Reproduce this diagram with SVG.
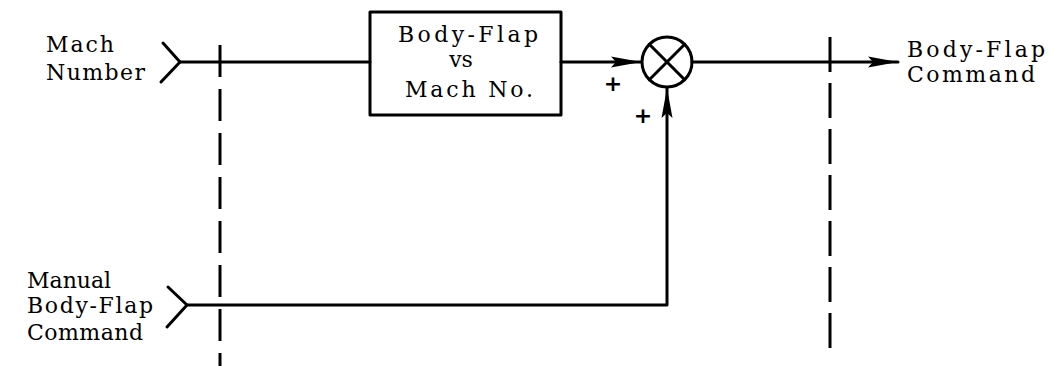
<svg xmlns="http://www.w3.org/2000/svg" width="1054" height="366" viewBox="0 0 1054 366">
<style>
.ln{stroke:#000;stroke-width:3;fill:none;stroke-linecap:round;stroke-linejoin:round}
.dash{stroke:#000;stroke-width:3;fill:none}
.t{font-family:"DejaVu Serif","Liberation Serif",serif;font-size:22px;fill:#000}
.p{font-family:"DejaVu Sans",sans-serif;font-size:22px;font-weight:bold;fill:#000;text-anchor:middle}
</style>
<defs>
<marker id="ah" viewBox="0 0 30 14" refX="30" refY="7" markerWidth="30" markerHeight="14" markerUnits="userSpaceOnUse" orient="auto">
<path d="M0,1.5 L30,7 L0,12.5 L5,7 Z" fill="#000"/>
</marker>
</defs>
<rect width="1054" height="366" fill="#fff"/>
<g id="boundaries">
<line class="dash" x1="220" y1="45" x2="220" y2="366" stroke-dasharray="32 12"/>
<line class="dash" x1="830" y1="37" x2="830" y2="348" stroke-dasharray="35 11"/>
</g>
<g id="mach-input">
<path class="ln" d="M163,43 L180,62 L161,82"/>
<text class="t" x="46" y="52" textLength="68" lengthAdjust="spacing">Mach</text>
<text class="t" x="46" y="80" textLength="99" lengthAdjust="spacing">Number</text>
</g>
<g id="manual-input">
<path class="ln" d="M168,287 L187,305 L167,327"/>
<text class="t" x="27" y="288">Manual</text>
<text class="t" x="27" y="313" textLength="126" lengthAdjust="spacing">Body-Flap</text>
<text class="t" x="27" y="340" textLength="116" lengthAdjust="spacing">Command</text>
</g>
<g id="schedule-box">
<rect class="ln" x="370" y="12" width="191" height="103" stroke-width="3.5"/>
<text class="t" x="398" y="42" textLength="140" lengthAdjust="spacing">Body-Flap</text>
<text class="t" x="461" y="67" text-anchor="middle">vs</text>
<text class="t" x="405" y="97" textLength="128" lengthAdjust="spacing">Mach No.</text>
</g>
<g id="summer">
<circle class="ln" cx="667" cy="62" r="25"/>
<line class="ln" x1="649.3" y1="44.3" x2="684.7" y2="79.7"/>
<line class="ln" x1="684.7" y1="44.3" x2="649.3" y2="79.7"/>
<text class="p" x="613" y="91">+</text>
<text class="p" x="643" y="123">+</text>
</g>
<g id="output">
<text class="t" x="907" y="57" textLength="138" lengthAdjust="spacing">Body-Flap</text>
<text class="t" x="907" y="82" textLength="128" lengthAdjust="spacing">Command</text>
</g>
<g id="connectors">
<line class="ln" x1="180" y1="62" x2="370" y2="62"/>
<line class="ln" x1="561" y1="62" x2="641" y2="62" marker-end="url(#ah)"/>
<line class="ln" x1="692" y1="62" x2="898" y2="62" marker-end="url(#ah)"/>
<path class="ln" d="M187,305 L667,305 L667,88" marker-end="url(#ah)"/>
</g>
</svg>
